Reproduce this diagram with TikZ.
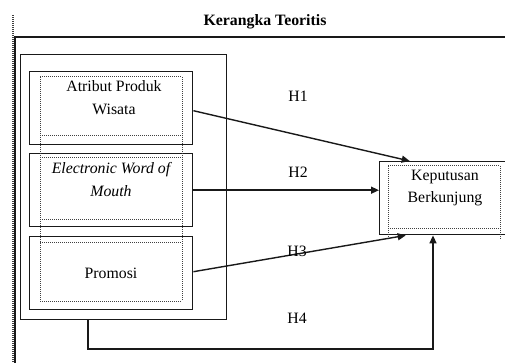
\documentclass[tikz,border=0pt]{standalone}
\usepackage{fontspec}
\setmainfont{Liberation Serif}
\usetikzlibrary{arrows.meta}
\begin{document}
\begin{tikzpicture}[x=1pt,y=-1pt,
  box/.style={draw=black!90, line width=1.4pt, minimum width=163pt, minimum height=73pt, inner sep=0pt, anchor=north west},
  grpbox/.style={draw=black!90, line width=1.4pt, minimum width=206pt, minimum height=265pt, inner sep=0pt, anchor=north west},
  dotline/.style={draw=black!75, line width=1pt, densely dotted},
  txt/.style={font=\fontsize{15.8}{22.5}\selectfont, align=center, inner sep=0pt},
  hlab/.style={font=\fontsize{15.8}{18}\selectfont, inner sep=0pt},
  arr/.style={draw=black!90, line width=1.4pt, -{Triangle[length=8pt,width=7pt]}},
  ln/.style={draw=black!90, line width=1.4pt}
]
\useasboundingbox (0,0) rectangle (505,363);
% frame
\coordinate (fdtop) at (13,15);
\coordinate (fdbot) at (13,363);
\coordinate (fsbot) at (15,363);
\coordinate (fscorner) at (15,37);
\coordinate (fsright) at (505,37);
\draw[dotline, line width=1.3pt] (fdtop) -- (fdbot);
\draw[ln, line width=1.6pt] (fsbot) -- (fscorner) -- (fsright);
\node[font=\bfseries\fontsize{15.8}{18}\selectfont, inner sep=0pt] (title) at (265,22) {Kerangka Teoritis};
% group box
\node[grpbox] (grp) at (20,54) {};
% boxes
\node[box] (b1) at (29,71) {};
\node[box] (b2) at (29,153) {};
\node[box] (b3) at (29,236) {};
\node[draw=black!90, line width=1.4pt, minimum width=128pt, minimum height=73pt, inner sep=0pt, anchor=north west] (kp) at (379,161) {};
% dotted text frames
\draw[dotline] (40,77) -- (182,77);
\draw[dotline] (40,136) -- (182,136);
\draw[dotline] (40,158) -- (182,158);
\draw[dotline] (40,219) -- (182,219);
\draw[dotline] (40,242) -- (182,242);
\draw[dotline] (40,301) -- (182,301);
\draw[dotline] (40,77) -- (40,301);
\draw[dotline] (182,77) -- (182,301);
\draw[dotline] (388,166) -- (500,166);
\draw[dotline] (388,228) -- (500,228);
\draw[dotline] (388,166) -- (388,240);
\draw[dotline] (500,166) -- (500,240);
% texts
\node[txt] (t1) at (114,97.5) {Atribut Produk\\Wisata};
\node[txt] (t2) at (111,179.5) {\itshape Electronic Word of\\\itshape Mouth};
\node[txt] (t3) at (111,273.5) {Promosi};
\node[txt] (t4) at (445,188) {Keputusan\\Berkunjung};
% arrows
\draw[arr] ([yshift=-2.5pt]b1.east) -- ([xshift=-34pt]kp.north);
\draw[arr] (b2.east) -- (b2.east -| kp.west);
\draw[arr] ([yshift=1.5pt]b3.east) -- ([xshift=-38pt]kp.south);
\coordinate (h4a) at (88,349);
\coordinate (h4b) at (433,349);
\draw[arr] (grp.south -| h4a) -- (h4a) -- (h4b) -- (h4b |- kp.south);
% labels
\node[hlab] (H1) at (298,96) {H1};
\node[hlab] (H2) at (298,172) {H2};
\node[hlab] (H3) at (297,251) {H3};
\node[hlab] (H4) at (297,318) {H4};
\end{tikzpicture}
\end{document}
